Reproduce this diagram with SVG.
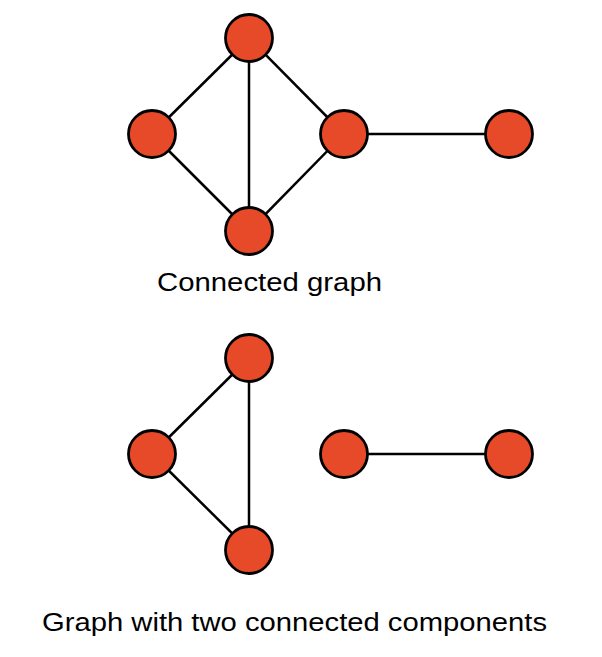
<svg xmlns="http://www.w3.org/2000/svg" width="602" height="657" viewBox="0 0 602 657">
<style>
.edge{stroke:#000;stroke-width:2.5;fill:none}
.node{fill:#E64A28;stroke:#000;stroke-width:2.8}
.label{font-family:"Liberation Sans",Arial,sans-serif;font-size:26px;fill:#000}
</style>
<rect width="602" height="657" fill="#fff"/>
<g id="connectors">
<line class="edge" x1="152" y1="134" x2="249" y2="38"/>
<line class="edge" x1="249" y1="38" x2="249" y2="231"/>
<line class="edge" x1="249" y1="38" x2="344" y2="134"/>
<line class="edge" x1="152" y1="134" x2="249" y2="231"/>
<line class="edge" x1="249" y1="231" x2="344" y2="134"/>
<line class="edge" x1="344" y1="134" x2="509" y2="134"/>
<line class="edge" x1="152" y1="454" x2="249" y2="358"/>
<line class="edge" x1="249" y1="358" x2="249" y2="550"/>
<line class="edge" x1="152" y1="454" x2="249" y2="550"/>
<line class="edge" x1="344" y1="454" x2="509" y2="454"/>
</g>
<g id="a1"><circle class="node" cx="249" cy="38" r="23.5"/></g>
<g id="a2"><circle class="node" cx="152" cy="134" r="23.5"/></g>
<g id="a3"><circle class="node" cx="344" cy="134" r="23.5"/></g>
<g id="a4"><circle class="node" cx="249" cy="231" r="23.5"/></g>
<g id="a5"><circle class="node" cx="509" cy="134" r="23.5"/></g>
<g id="b1"><circle class="node" cx="249" cy="358" r="23.5"/></g>
<g id="b2"><circle class="node" cx="152" cy="454" r="23.5"/></g>
<g id="b3"><circle class="node" cx="249" cy="550" r="23.5"/></g>
<g id="b4"><circle class="node" cx="344" cy="454" r="23.5"/></g>
<g id="b5"><circle class="node" cx="509" cy="454" r="23.5"/></g>
<g id="label1"><text class="label" x="157" y="291" textLength="225" lengthAdjust="spacingAndGlyphs">Connected graph</text></g>
<g id="label2"><text class="label" x="42" y="631" textLength="505" lengthAdjust="spacingAndGlyphs">Graph with two connected components</text></g>
</svg>
